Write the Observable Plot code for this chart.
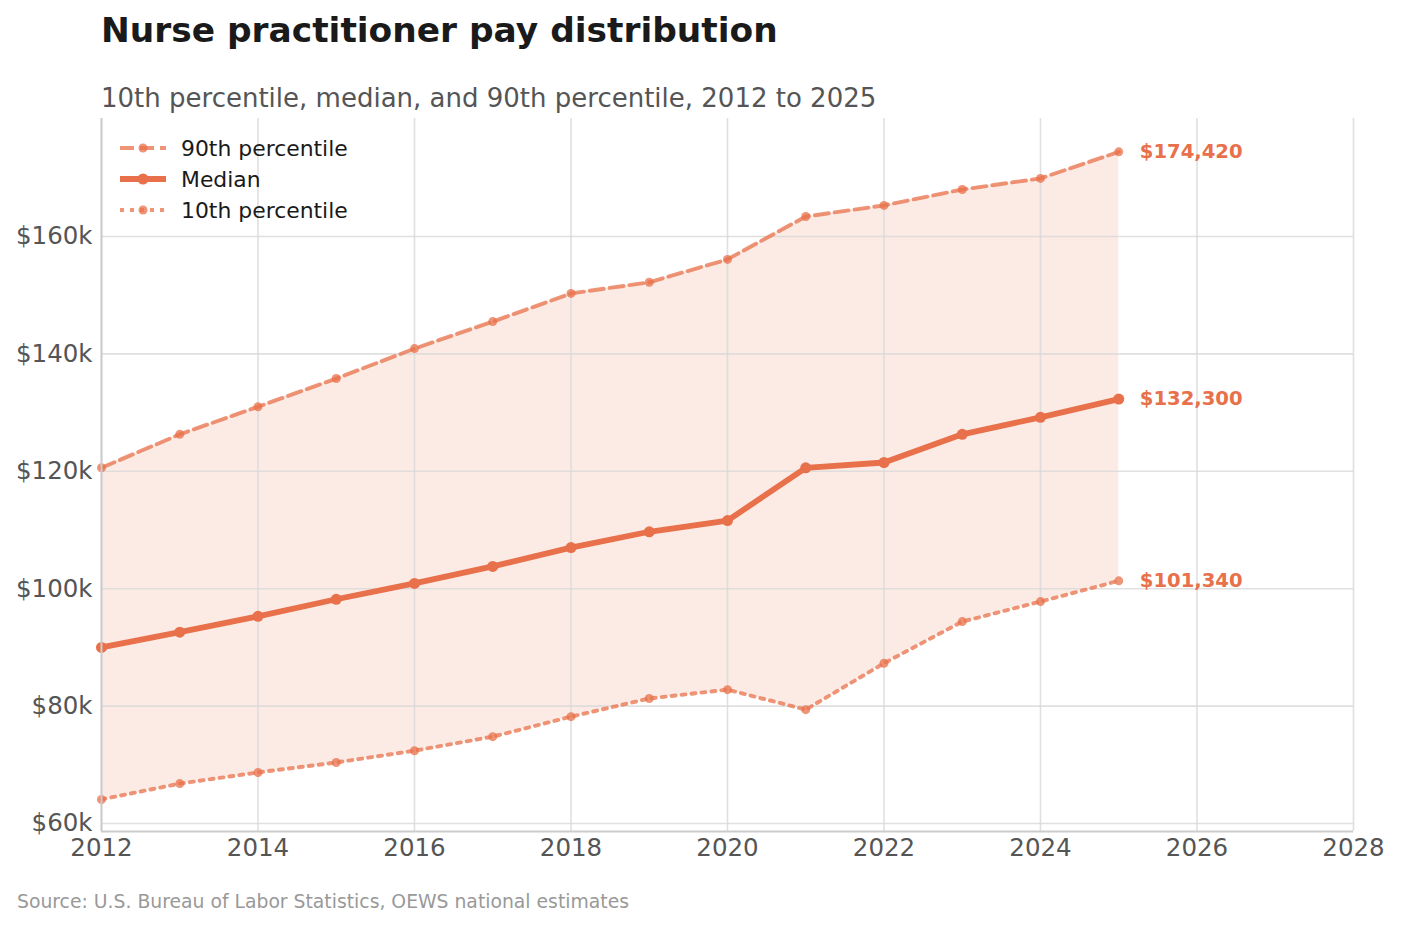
<!DOCTYPE html>
<html>
<head>
<meta charset="utf-8">
<script src="https://cdn.jsdelivr.net/npm/d3@7"></script>
<script src="https://cdn.jsdelivr.net/npm/@observablehq/plot@0.6"></script>
<style>
  html, body { margin: 0; padding: 0; background: #fff; }
  body { width: 1401px; height: 927px; position: relative; overflow: hidden; font-family: "DejaVu Sans", sans-serif; }
  .abs { position: absolute; line-height: 1; white-space: nowrap; }
  #title { left: 101px; top: 13px; font-size: 34.4px; font-weight: bold; color: #1a1a1a; }
  #subtitle { left: 101px; top: 85px; font-size: 26px; color: #555; }
  #source { left: 17px; top: 893px; font-size: 18.8px; color: #999; }
  #chart { left: 0; top: 110px; }
  #legend { left: 110px; top: 128px; }
</style>
</head>
<body>
<div id="title" class="abs">Nurse practitioner pay distribution</div>
<div id="subtitle" class="abs">10th percentile, median, and 90th percentile, 2012 to 2025</div>
<div id="chart" class="abs"></div>
<div id="legend" class="abs"></div>
<div id="source" class="abs">Source: U.S. Bureau of Labor Statistics, OEWS national estimates</div>
<script>
const years = [2012, 2013, 2014, 2015, 2016, 2017, 2018, 2019, 2020, 2021, 2022, 2023, 2024, 2025];
const p90 = [120600, 126300, 131000, 135800, 140900, 145500, 150300, 152200, 156100, 163400, 165300, 168000, 169900, 174420];
const median = [90000, 92600, 95300, 98200, 100900, 103800, 107000, 109700, 111600, 120600, 121500, 126300, 129200, 132300];
const p10 = [64100, 66800, 68700, 70400, 72400, 74800, 78200, 81300, 82800, 79400, 87300, 94400, 97800, 101340];
const xTicks = [2012, 2014, 2016, 2018, 2020, 2022, 2024, 2026, 2028];
const yTicks = [60000, 80000, 100000, 120000, 140000, 160000];
const seriesNames = ["90th percentile", "Median", "10th percentile"];

const color = "#E8704A";
const rows = years.map((y, i) => ({year: y, p90: p90[i], median: median[i], p10: p10[i]}));
const last = rows[rows.length - 1];
const fmt = d3.format("$,");
const endLabels = [
  {year: last.year, v: last.p90},
  {year: last.year, v: last.median},
  {year: last.year, v: last.p10}
];

const chart = Plot.plot({
  width: 1401,
  height: 760,
  marginLeft: 101,
  marginRight: 48,
  marginTop: 8,
  marginBottom: 39,
  style: {fontFamily: "DejaVu Sans, sans-serif", fontSize: "24.5px", color: "#555", background: "transparent"},
  x: {domain: [2012, 2028], ticks: xTicks, tickFormat: d => String(d), label: null},
  y: {domain: [58640, 180100], ticks: yTicks, tickFormat: d => "$" + (d / 1000) + "k", label: null},
  marks: [
    Plot.areaY(rows, {x: "year", y1: "p10", y2: "p90", fill: color, fillOpacity: 0.14}),
    Plot.ruleX(xTicks, {stroke: "#d8d8d8", strokeOpacity: 0.8, strokeWidth: 1.6}),
    Plot.ruleY(yTicks, {stroke: "#d8d8d8", strokeOpacity: 0.8, strokeWidth: 1.6}),
    Plot.lineY(rows, {x: "year", y: "p90", stroke: color, strokeOpacity: 0.75, strokeWidth: 3.9, strokeDasharray: "14,6"}),
    Plot.dot(rows, {x: "year", y: "p90", fill: color, fillOpacity: 0.75, r: 4.5}),
    Plot.lineY(rows, {x: "year", y: "p10", stroke: color, strokeOpacity: 0.75, strokeWidth: 3.9, strokeDasharray: "4,6"}),
    Plot.dot(rows, {x: "year", y: "p10", fill: color, fillOpacity: 0.75, r: 4.5}),
    Plot.lineY(rows, {x: "year", y: "median", stroke: color, strokeWidth: 5.8}),
    Plot.dot(rows, {x: "year", y: "median", fill: color, r: 5.5}),
    Plot.text(endLabels, {x: "year", y: "v", text: d => fmt(d.v), textAnchor: "start", dx: 21, fill: color, fontWeight: "bold", fontSize: 19.6}),
    Plot.ruleX([2012], {stroke: "#cccccc", strokeWidth: 2}),
    Plot.ruleY([58640], {stroke: "#cccccc", strokeWidth: 2}),
    Plot.axisX({ticks: xTicks, tickSize: 0, tickPadding: 7, tickFormat: d => String(d), fill: "#555", fontSize: 24.5}),
    Plot.axisY({ticks: yTicks, tickSize: 0, tickPadding: 9, tickFormat: d => "$" + (d / 1000) + "k", fill: "#555", fontSize: 24.5})
  ]
});
document.getElementById("chart").appendChild(chart);

// Legend
const lg = d3.select("#legend").append("svg").attr("width", 260).attr("height", 100)
  .style("font-family", "DejaVu Sans, sans-serif");
const styles = [
  {dash: "14,6", w: 3.9, op: 0.75, r: 4.5},
  {dash: null, w: 5.8, op: 1, r: 5.5},
  {dash: "4,6", w: 3.9, op: 0.75, r: 4.5}
];
seriesNames.forEach((name, i) => {
  const cy = 20 + i * 31;
  const s = styles[i];
  const ln = lg.append("line").attr("x1", 10).attr("x2", 56).attr("y1", cy).attr("y2", cy)
    .attr("stroke", color).attr("stroke-width", s.w).attr("stroke-opacity", s.op);
  if (s.dash) ln.attr("stroke-dasharray", s.dash);
  lg.append("circle").attr("cx", 33).attr("cy", cy).attr("r", s.r).attr("fill", color).attr("fill-opacity", s.op);
  lg.append("text").attr("x", 71).attr("y", cy).attr("dy", "0.35em").attr("font-size", 21.9).attr("fill", "#1a1a1a").text(name);
});
</script>
</body>
</html>
